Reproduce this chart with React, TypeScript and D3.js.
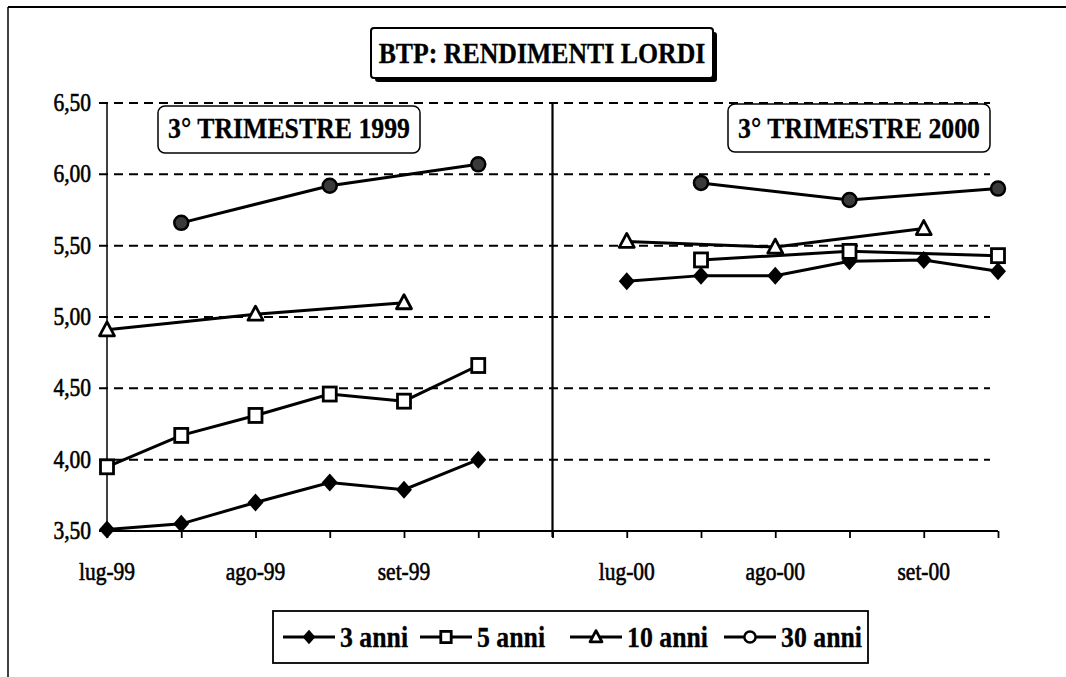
import React, { useRef, useEffect } from 'react';
import * as d3 from 'd3';

// categories (blank = unlabeled tick, index 6 is the gap between the two quarters)
const categories = ['lug-99', '', 'ago-99', '', 'set-99', '', '', 'lug-00', '', 'ago-00', '', 'set-00', ''];
const anni3 = [3.51, 3.55, 3.7, 3.84, 3.79, 4.0, null, 5.25, 5.29, 5.29, 5.39, 5.4, 5.32];
const anni5 = [3.95, 4.17, 4.31, 4.46, 4.41, 4.66, null, null, 5.4, null, 5.46, null, 5.43];
const anni10 = [4.91, null, 5.02, null, 5.1, null, null, 5.53, null, 5.49, null, 5.62, null];
const anni30 = [null, 5.66, null, 5.92, null, 6.07, null, null, 5.94, null, 5.82, null, 5.9];
const yTicks = [3.5, 4, 4.5, 5, 5.5, 6, 6.5];
const sections = [
  [0, 5],
  [7, 12],
];
const seriesNames = ['3 anni', '5 anni', '10 anni', '30 anni'];
const markers = ['diamond', 'square', 'triangle', 'circle'];
const title = 'BTP: RENDIMENTI LORDI';
const subtitles = ['3° TRIMESTRE 1999', '3° TRIMESTRE 2000'];

const FONT = '"Liberation Serif", "Times New Roman", serif';
const SQUEEZE = 0.86; // the scanned lettering is narrow

function addText(g: any, x: number, y: number, str: string, size: number, weight = 'normal', anchor = 'middle') {
  g.append('text')
    .attr('transform', `translate(${x},${y}) scale(${SQUEEZE},1)`)
    .attr('text-anchor', anchor)
    .attr('font-family', FONT)
    .attr('font-size', size)
    .attr('font-weight', weight)
    .attr('fill', '#000')
    .attr('stroke', '#000')
    .attr('stroke-width', weight === 'bold' ? 0.3 : 0.6)
    .text(str);
}

function addMarker(g: any, type: string, x: number, y: number, k = 1) {
  if (type === 'diamond') {
    g.append('path')
      .attr('d', `M${x},${y - 9 * k}L${x + 8 * k},${y}L${x},${y + 9 * k}L${x - 8 * k},${y}Z`)
      .attr('fill', '#000');
  } else if (type === 'square') {
    g.append('rect')
      .attr('x', x - 6.5 * k)
      .attr('y', y - 7 * k)
      .attr('width', 13 * k)
      .attr('height', 14 * k)
      .attr('fill', '#fff')
      .attr('stroke', '#000')
      .attr('stroke-width', 2.8);
  } else if (type === 'triangle') {
    g.append('path')
      .attr('d', `M${x},${y - 8 * k}L${x + 7.5 * k},${y + 6 * k}L${x - 7.5 * k},${y + 6 * k}Z`)
      .attr('fill', '#fff')
      .attr('stroke', '#000')
      .attr('stroke-width', 2.8)
      .attr('stroke-linejoin', 'round');
  } else {
    g.append('circle')
      .attr('cx', x)
      .attr('cy', y)
      .attr('r', 7 * k)
      .attr('fill', k < 1 ? '#fff' : '#3a3a3a')
      .attr('stroke', '#000')
      .attr('stroke-width', 2.5);
  }
}

export default function App() {
  const svgRef = useRef(null);

  useEffect(() => {
    document.body.style.margin = '0';
    const svg = d3.select(svgRef.current);
    svg.selectAll('*').remove();

    // Scales
    const x = d3
      .scalePoint<number>()
      .domain(categories.map((_, i) => i))
      .range([107, 998]);
    const y = d3.scaleLinear().domain([3.5, 6.5]).range([531, 103]);

    // outer frame (top and left only, as scanned)
    svg.append('line').attr('x1', 8).attr('x2', 1066).attr('y1', 7).attr('y2', 7).attr('stroke', '#000').attr('stroke-width', 2);
    svg.append('line').attr('x1', 8).attr('x2', 8).attr('y1', 7).attr('y2', 677).attr('stroke', '#000').attr('stroke-width', 1.5);

    // grid lines
    const grid = svg.append('g');
    yTicks.forEach((t) => {
      grid
        .append('line')
        .attr('x1', 99)
        .attr('x2', 990)
        .attr('y1', y(t))
        .attr('y2', y(t))
        .attr('stroke', '#000')
        .attr('stroke-width', 2)
        .attr('stroke-dasharray', '9,6');
      addText(grid, 91, y(t) + 8, d3.format('.2f')(t).replace('.', ','), 25, 'normal', 'end');
    });

    // axes
    svg.append('line').attr('x1', x(0)).attr('x2', x(0)).attr('y1', y(6.5)).attr('y2', y(3.5)).attr('stroke', '#000').attr('stroke-width', 1.5);
    svg.append('line').attr('x1', x(6)).attr('x2', x(6)).attr('y1', y(6.5)).attr('y2', y(3.5) + 6).attr('stroke', '#000').attr('stroke-width', 2.2);
    const xAxis = d3
      .axisBottom(x)
      .tickSize(7)
      .tickFormat(() => '');
    const xg = svg.append('g').attr('transform', `translate(0,${y(3.5)})`).call(xAxis);
    xg.select('.domain').attr('d', `M${x(0)},0H${x(12)}`).attr('stroke-width', 2.2);
    xg.selectAll('.tick line').attr('stroke-width', 1.8);
    categories.forEach((c, i) => {
      if (c) addText(svg, x(i), 580, c, 25);
    });

    // series lines, split by quarter
    const all = [anni3, anni5, anni10, anni30];
    const line = d3
      .line<[number, number]>()
      .x((d) => x(d[0]))
      .y((d) => y(d[1]));
    const plot = svg.append('g');
    all.forEach((vals) => {
      sections.forEach(([a, b]) => {
        const pts = vals
          .map((v, i) => [i, v] as [number, number])
          .filter((d) => d[0] >= a && d[0] <= b && d[1] != null);
        plot.append('path').datum(pts).attr('d', line).attr('fill', 'none').attr('stroke', '#000').attr('stroke-width', 3);
      });
    });
    all.forEach((vals, s) => {
      vals.forEach((v, i) => {
        if (v != null) addMarker(plot, markers[s], x(i), y(v));
      });
    });

    // title box with shadow
    svg.append('rect').attr('x', 375).attr('y', 32).attr('width', 342).attr('height', 50).attr('rx', 3).attr('fill', '#000');
    svg.append('rect').attr('x', 371).attr('y', 28).attr('width', 342).attr('height', 50).attr('rx', 3).attr('fill', '#fff').attr('stroke', '#000').attr('stroke-width', 2);
    addText(svg, 542, 63, title, 30, 'bold');

    // quarter labels
    const boxes = [
      { x: 158, y: 106, w: 262, h: 47 },
      { x: 728, y: 104, w: 262, h: 48 },
    ];
    boxes.forEach((b, i) => {
      svg.append('rect').attr('x', b.x).attr('y', b.y).attr('width', b.w).attr('height', b.h).attr('rx', 7).attr('fill', '#fff').attr('stroke', '#000').attr('stroke-width', 1.5);
      addText(svg, b.x + b.w / 2, 138, subtitles[i], 30, 'bold');
    });

    // legend
    const legend = svg.append('g');
    legend.append('rect').attr('x', 273).attr('y', 611).attr('width', 595).attr('height', 52).attr('fill', '#fff').attr('stroke', '#000').attr('stroke-width', 1.8);
    const legendX = [309, 446, 596, 750];
    seriesNames.forEach((name, i) => {
      const cx = legendX[i];
      legend.append('line').attr('x1', cx - 26).attr('x2', cx + 26).attr('y1', 637).attr('y2', 637).attr('stroke', '#000').attr('stroke-width', 3);
      addMarker(legend, markers[i], cx, 637, 0.8);
      addText(legend, cx + 31, 647, name, 30, 'bold', 'start');
    });
  }, []);

  return <svg ref={svgRef} width={1066} height={677} style={{ display: 'block', background: '#fff' }} />;
}
